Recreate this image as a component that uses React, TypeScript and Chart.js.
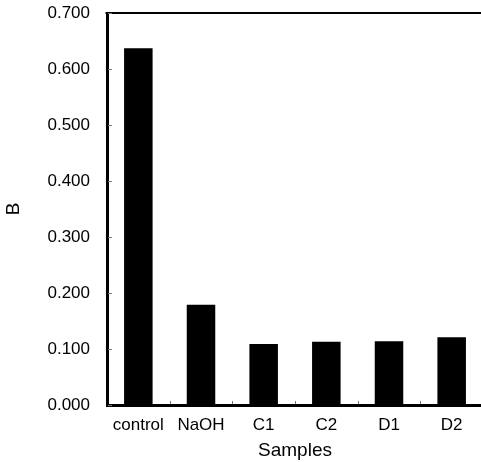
import React, { useEffect, useRef } from "react";
import { Chart, registerables } from "chart.js";

Chart.register(...registerables);

const categories = ["control", "NaOH", "C1", "C2", "D1", "D2"];
const values = [0.637, 0.179, 0.109, 0.113, 0.114, 0.121];
const yMin = 0;
const yMax = 0.7;
const yStep = 0.1;

const FONT = "'Liberation Sans', Arial, Helvetica, sans-serif";

const framePlugin = {
  id: "frame",
  afterDraw(chart: any) {
    const { ctx, chartArea } = chart;
    const xs = chart.scales.x;
    const ys = chart.scales.y;
    ctx.save();
    ctx.strokeStyle = "#000";
    ctx.lineWidth = 2;
    ctx.beginPath();
    ctx.moveTo(chartArea.left - 1.5, chartArea.top);
    ctx.lineTo(chartArea.right + 2, chartArea.top);
    ctx.lineTo(chartArea.right + 2, chartArea.bottom);
    ctx.stroke();
    ctx.strokeStyle = "#777";
    ctx.lineWidth = 1;
    ys.ticks.forEach((t: any) => {
      const y = Math.round(ys.getPixelForValue(t.value)) + 0.5;
      ctx.beginPath();
      ctx.moveTo(chartArea.left + 1, y);
      ctx.lineTo(chartArea.left + 5, y);
      ctx.stroke();
    });
    for (let i = 1; i < categories.length; i++) {
      const x =
        Math.round((xs.getPixelForValue(i - 1) + xs.getPixelForValue(i)) / 2) + 0.5;
      ctx.beginPath();
      ctx.moveTo(x, chartArea.bottom - 1);
      ctx.lineTo(x, chartArea.bottom - 4);
      ctx.stroke();
    }
    ctx.restore();
  },
};

export default function App() {
  const ref = useRef<HTMLCanvasElement | null>(null);
  useEffect(() => {
    if (!ref.current) return;
    const chart = new Chart(ref.current, {
      type: "bar",
      data: {
        labels: categories,
        datasets: [
          {
            data: values,
            backgroundColor: "#000",
            borderWidth: 0,
            categoryPercentage: 1,
            barPercentage: 0.455,
          },
        ],
      },
      options: {
        animation: false,
        responsive: false,
        devicePixelRatio: 1,
        layout: { padding: { top: 13, right: 7, left: 0, bottom: 0 } },
        plugins: { legend: { display: false }, tooltip: { enabled: false } },
        scales: {
          x: {
            offset: true,
            grid: { display: true, drawOnChartArea: false, drawTicks: false },
            border: { display: true, color: "#000", width: 3 },
            ticks: { color: "#000", font: { family: FONT, size: 17 }, padding: 10, maxRotation: 0 },
            title: {
              display: true,
              text: "Samples",
              color: "#000",
              font: { family: FONT, size: 19 },
              padding: { top: 1, bottom: 0 },
            },
            afterFit(scale: any) {
              scale.height = 57;
              scale.paddingLeft = 0;
              scale.paddingRight = 0;
            },
          },
          y: {
            min: yMin,
            max: yMax,
            grid: { display: true, drawOnChartArea: false, drawTicks: false },
            border: { display: true, color: "#000", width: 3 },
            ticks: {
              stepSize: yStep,
              color: "#000",
              font: { family: FONT, size: 17 },
              padding: 17,
              callback: (v: any) => Number(v).toFixed(3),
            },
            title: {
              display: true,
              text: "B",
              color: "#000",
              font: { family: FONT, size: 19 },
              padding: { top: 2, bottom: 0 },
            },
            afterFit(scale: any) {
              scale.width = 107;
              scale.paddingTop = 0;
              scale.paddingBottom = 0;
            },
          },
        },
      },
      plugins: [framePlugin],
    });
    return () => chart.destroy();
  }, []);
  return (
    <div
      style={{
        position: "fixed",
        left: 0,
        top: 0,
        width: 481,
        height: 462,
        overflow: "hidden",
        background: "#fff",
      }}
    >
      <canvas ref={ref} width={490} height={462} style={{ width: 490, height: 462 }} />
    </div>
  );
}
